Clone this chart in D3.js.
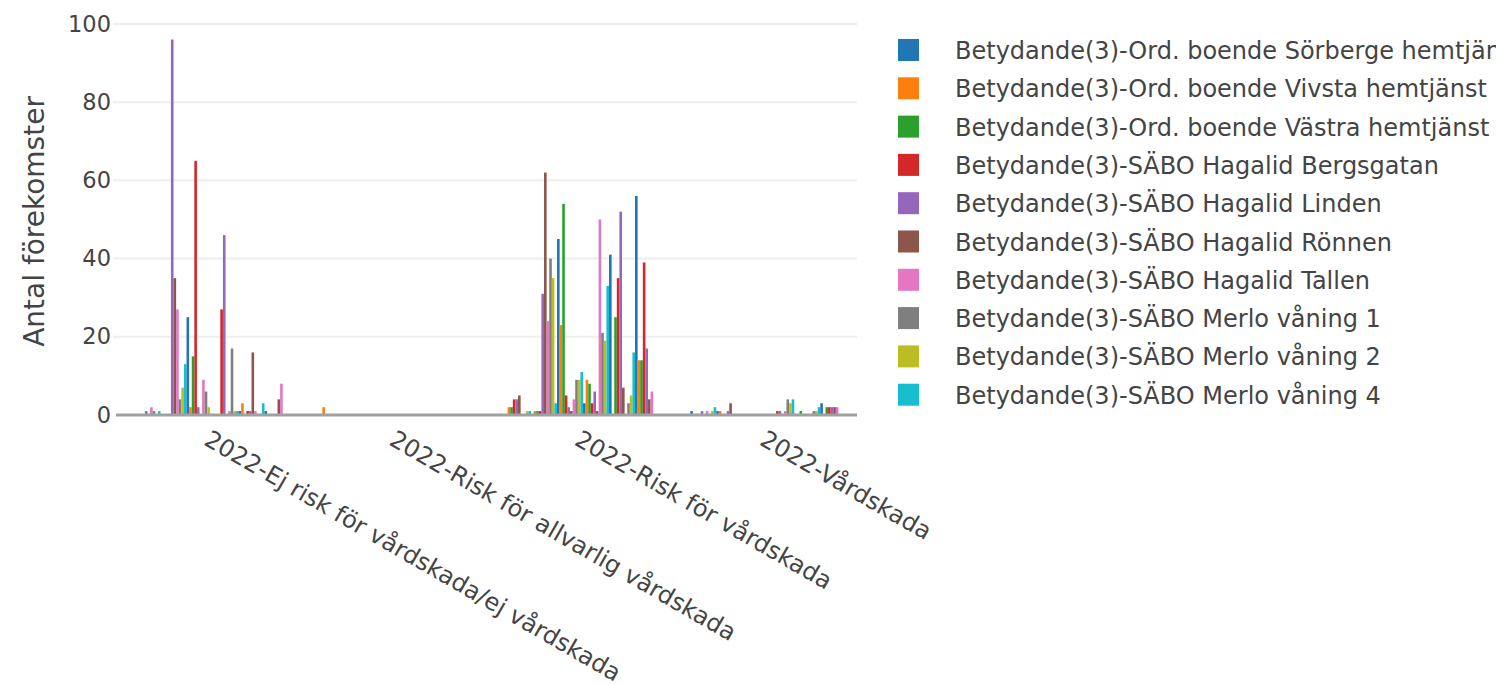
<!DOCTYPE html>
<html lang="en">
<head>
<meta charset="utf-8">
<title>Antal förekomster 2022</title>
<style>
  body { margin: 0; background: #fff; }
  svg { display: block; font-family: "DejaVu Sans", Verdana, sans-serif; }
</style>
</head>
<body>
<script src="https://cdn.jsdelivr.net/npm/d3@7"></script>
<script>

// categories on the x axis
var categories = [
  "2022-Ej risk för vårdskada/ej vårdskada",
  "2022-Risk för allvarlig vårdskada",
  "2022-Risk för vårdskada",
  "2022-Vårdskada"
];

// the first ten trace names (the rest of the legend is scrolled away)
var legendNames = [
  "Betydande(3)-Ord. boende Sörberge hemtjänst",
  "Betydande(3)-Ord. boende Vivsta hemtjänst",
  "Betydande(3)-Ord. boende Västra hemtjänst",
  "Betydande(3)-SÄBO Hagalid Bergsgatan",
  "Betydande(3)-SÄBO Hagalid Linden",
  "Betydande(3)-SÄBO Hagalid Rönnen",
  "Betydande(3)-SÄBO Hagalid Tallen",
  "Betydande(3)-SÄBO Merlo våning 1",
  "Betydande(3)-SÄBO Merlo våning 2",
  "Betydande(3)-SÄBO Merlo våning 4"
];

// values per trace (57 traces), one array per category
var ejRisk = [
  0, 0, 0, 0, 1, 0, 2, 1, 0, 1,
  0, 0, 0, 0, 96, 35, 27, 4, 7, 13,
  25, 2, 15, 65, 2, 0, 9, 6, 2, 0,
  0, 0, 0, 27, 46, 0, 1, 17, 1, 1,
  1, 3, 0, 1, 1, 16, 1, 0, 0, 3,
  1, 0, 0, 0, 0, 4, 8
];
var riskAllvarlig = [
  0, 2, 0, 0, 0, 0, 0, 0, 0, 0,
  0, 0, 0, 0, 0, 0, 0, 0, 0, 0,
  0, 0, 0, 0, 0, 0, 0, 0, 0, 0,
  0, 0, 0, 0, 0, 0, 0, 0, 0, 0,
  0, 0, 0, 0, 0, 0, 0, 0, 0, 0,
  0, 0, 0, 0, 0, 0, 0
];
var riskVardskada = [
  0, 2, 2, 4, 4, 5, 0, 0, 1, 1,
  0, 1, 1, 1, 31, 62, 24, 40, 35, 3,
  45, 23, 54, 5, 2, 1, 4, 9, 9, 11,
  3, 9, 8, 3, 6, 1, 50, 21, 19, 33,
  41, 0, 25, 35, 52, 7, 0, 3, 5, 16,
  56, 14, 14, 39, 17, 4, 6
];
var vardskada = [
  1, 0, 0, 0, 1, 0, 1, 0, 1, 2,
  1, 1, 0, 0, 1, 3, 0, 0, 0, 0,
  0, 0, 0, 0, 0, 0, 0, 0, 0, 0,
  0, 0, 0, 1, 1, 0, 1, 4, 3, 4,
  0, 0, 1, 0, 0, 0, 0, 1, 1, 2,
  3, 0, 2, 2, 2, 2, 2
];

var yTicks = [0, 20, 40, 60, 80, 100];

var colors = ["#1f77b4", "#ff7f0e", "#2ca02c", "#d62728", "#9467bd",
              "#8c564b", "#e377c2", "#7f7f7f", "#bcbd22", "#17becf"];

var width = 1496, height = 685;
var plotLeft = 116, plotRight = 857, plotTop = 20, plotBottom = 415;

var valuesByCat = [ejRisk, riskAllvarlig, riskVardskada, vardskada];
var nTraces = ejRisk.length;

var svg = d3.select("body").append("svg")
  .attr("width", width).attr("height", height);

var x0 = d3.scaleBand().domain(categories).range([plotLeft, plotRight]);
var x1 = d3.scaleBand().domain(d3.range(nTraces))
  .range([x0.bandwidth() * 0.1, x0.bandwidth() * 0.9]);
var y = d3.scaleLinear().domain([0, 101]).range([plotBottom, plotTop]);

// grid
svg.append("g").selectAll("line")
  .data(yTicks.filter(function (d) { return d > 0; }))
  .enter().append("line")
  .attr("x1", plotLeft - 3).attr("x2", plotRight)
  .attr("y1", function (d) { return y(d); })
  .attr("y2", function (d) { return y(d); })
  .attr("stroke", "#eeeeee").attr("stroke-width", 2);

// bars
var rows = [];
valuesByCat.forEach(function (vals, ci) {
  vals.forEach(function (v, ti) {
    if (v > 0) rows.push({ cat: categories[ci], trace: ti, value: v });
  });
});

svg.append("g").selectAll("rect")
  .data(rows)
  .enter().append("rect")
  .attr("x", function (d) { return x0(d.cat) + x1(d.trace); })
  .attr("width", x1.bandwidth())
  .attr("y", function (d) { return y(d.value); })
  .attr("height", function (d) { return plotBottom - y(d.value); })
  .attr("fill", function (d) { return colors[d.trace % 10]; });

// zero line
svg.append("line")
  .attr("x1", plotLeft).attr("x2", plotRight)
  .attr("y1", y(0)).attr("y2", y(0))
  .attr("stroke", "#a0a0a0").attr("stroke-width", 3);

// y axis
var yAxis = d3.axisLeft(y).tickValues(yTicks).tickSize(0).tickPadding(5);
var yg = svg.append("g")
  .attr("transform", "translate(" + plotLeft + ",0)")
  .call(yAxis);
yg.select(".domain").remove();
yg.selectAll("text")
  .attr("fill", "#444").style("font-size", "22.5px")
  .style("font-family", "'DejaVu Sans', Verdana, sans-serif");

svg.append("text")
  .attr("transform", "translate(44," + (y(50) + 2) + ") rotate(-90)")
  .attr("text-anchor", "middle")
  .attr("fill", "#444")
  .style("font-size", "28px")
  .text("Antal förekomster");

// x tick labels, rotated 30 degrees
svg.append("g").selectAll("text")
  .data(categories)
  .enter().append("text")
  .attr("transform", function (d) {
    return "translate(" + (x0(d) + x0.bandwidth() / 2 - 6) + "," + (plotBottom + 29) + ") rotate(30)";
  })
  .attr("text-anchor", "start")
  .attr("fill", "#444")
  .style("font-size", "24px")
  .text(function (d) { return d; });

// legend
var legend = svg.append("g").selectAll("g")
  .data(legendNames)
  .enter().append("g")
  .attr("transform", function (d, i) { return "translate(898," + (39 + i * 38.3) + ")"; });

legend.append("rect")
  .attr("width", 21).attr("height", 22)
  .attr("fill", function (d, i) { return colors[i]; });

legend.append("text")
  .attr("x", 57).attr("y", 20)
  .attr("fill", "#444")
  .style("font-size", "24px")
  .text(function (d) { return d; });

</script>
</body>
</html>
